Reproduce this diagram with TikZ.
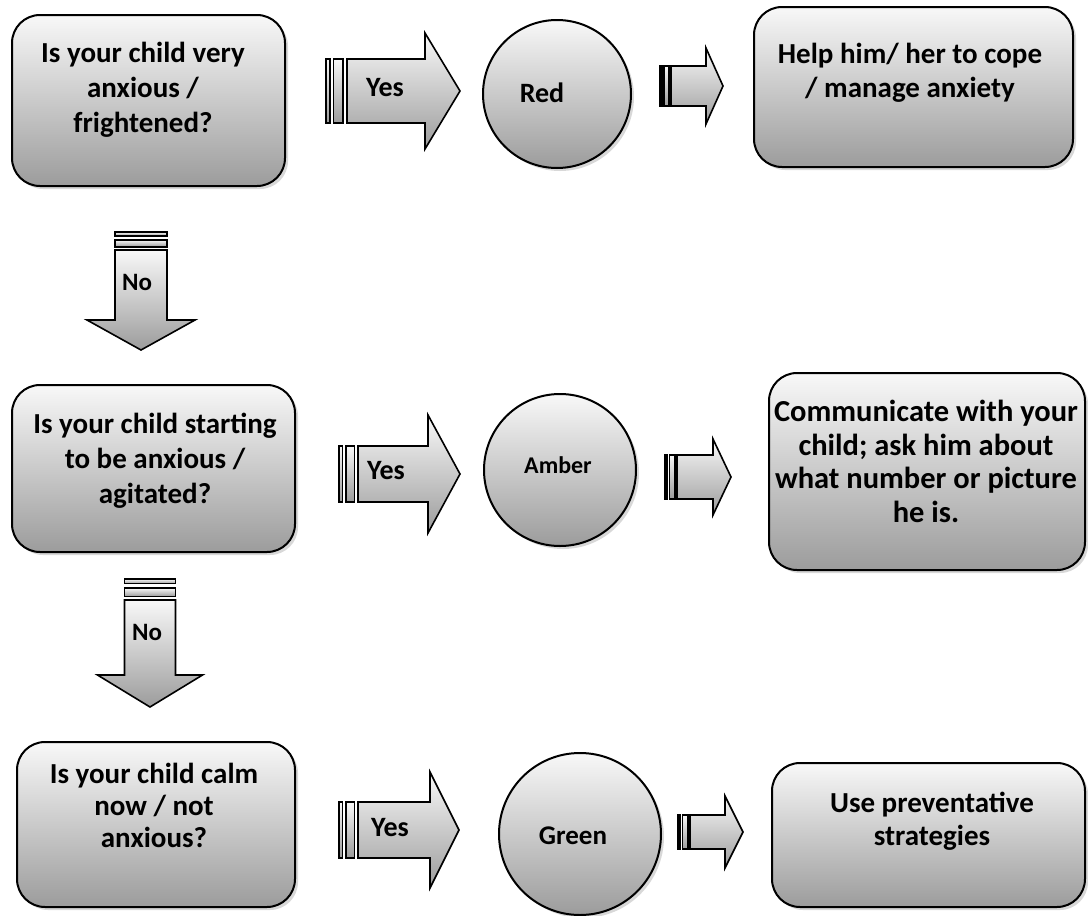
\documentclass[tikz,border=0pt]{standalone}
\usepackage{fontspec}
\setmainfont{Carlito}
\usetikzlibrary{shadows}
\definecolor{topc}{HTML}{F8F8F8}
\definecolor{botc}{HTML}{9C9C9C}
\tikzset{
  shadeit/.style={top color=topc, bottom color=botc},
  qbox/.style={draw=black, line width=2pt, rounded corners=28pt, shadeit,
    drop shadow={shadow xshift=3pt, shadow yshift=-3pt, opacity=0.3}, inner sep=0pt},
  qcirc/.style={circle, draw=black, line width=2pt, shadeit,
    drop shadow={shadow xshift=3pt, shadow yshift=-3pt, opacity=0.3}, inner sep=0pt},
  arrowshape/.style={draw=black, line width=1.6pt, shadeit, line join=miter},
  qtext/.style={font=\bfseries\fontsize{29}{35}\selectfont, align=center, anchor=north, inner sep=0pt},
  ctext/.style={font=\bfseries\fontsize{28}{32}\selectfont, inner sep=0pt},
  ytext/.style={font=\bfseries\fontsize{28}{32}\selectfont, inner sep=0pt},
  ntext/.style={font=\bfseries\fontsize{25}{30}\selectfont, inner sep=0pt},
}
% right striped block arrow: stripe start, body start, head start, tip, y centre, body half, head half
\newcommand\rarrowshape[7]{%
  \pgfmathsetmacro\rsa{#1}\pgfmathsetmacro\rsw{#2-#1}%
  \path[arrowshape] (\rsa,#5-#6) rectangle (\rsa+0.19*\rsw,#5+#6);
  \path[arrowshape] (\rsa+0.36*\rsw,#5-#6) rectangle (\rsa+0.82*\rsw,#5+#6);
  \path[arrowshape] (#2,#5-#6) -- (#3,#5-#6) -- (#3,#5-#7) -- (#4,#5) -- (#3,#5+#7) -- (#3,#5+#6) -- (#2,#5+#6) -- cycle;
}
% down striped block arrow: stripe start, body start, head start, tip, x centre, body half, head half
\newcommand\darrowshape[7]{%
  \pgfmathsetmacro\dsa{#1}\pgfmathsetmacro\dsw{#2-#1}%
  \path[arrowshape] (#5-#6,\dsa) rectangle (#5+#6,\dsa+0.22*\dsw);
  \path[arrowshape] (#5-#6,\dsa+0.44*\dsw) rectangle (#5+#6,\dsa+0.83*\dsw);
  \path[arrowshape] (#5-#6,#2) -- (#5-#6,#3) -- (#5-#7,#3) -- (#5,#4) -- (#5+#7,#3) -- (#5+#6,#3) -- (#5+#6,#2) -- cycle;
}
\begin{document}
\begin{tikzpicture}[x=1pt,y=-1pt]
\fill[white] (0,0) rectangle (1088,916);
\path[use as bounding box] (0,0) rectangle (1088,916);

% question boxes
\node[qbox, minimum width=273pt, minimum height=171pt] (q1) at (148.5,100.5) {};
\node[qbox, minimum width=283pt, minimum height=167pt] (q2) at (153.5,468.5) {};
\node[qbox, minimum width=278pt, minimum height=165pt] (q3) at (156,824.5) {};
% action boxes
\node[qbox, minimum width=319pt, minimum height=160pt] (a1) at (913.5,87) {};
\node[qbox, minimum width=316pt, minimum height=197pt] (a2) at (927,471.5) {};
\node[qbox, minimum width=313pt, minimum height=144pt] (a3) at (928.5,835) {};
% circles
\node[qcirc, minimum size=148pt] (c1) at (557,94) {};
\node[qcirc, minimum size=152pt] (c2) at (560,470) {};
\node[qcirc, minimum size=162pt] (c3) at (580,834) {};

% block arrows
\rarrowshape{326}{347}{425}{460}{91}{32}{58}
\rarrowshape{339}{358}{428}{460}{474}{28}{59}
\rarrowshape{339}{358}{430}{459}{830}{28}{58}
\rarrowshape{660}{671}{706}{723}{86}{20}{38}
\rarrowshape{665}{677}{713}{731}{477}{22}{38}
\rarrowshape{678}{690}{725}{743}{832}{17}{36}
\darrowshape{232}{250}{320}{350}{141}{26}{54}
\darrowshape{579}{600}{675}{707}{150}{25.5}{52.5}

% texts
\node[qtext] (t1) at (143,42) {Is your child very\\anxious /\\frightened?};
\node[qtext] (t2) at (155,413) {Is your child starting\\to be anxious /\\agitated?};
\node[qtext, font=\bfseries\fontsize{29}{32}\selectfont] (t3) at (154,763) {Is your child calm\\now / not\\anxious?};
\node[qtext, font=\bfseries\fontsize{29}{34}\selectfont] (t4) at (910,43) {Help him/ her to cope\\/ manage anxiety};
\node[qtext, font=\bfseries\fontsize{30.5}{33.5}\selectfont] (t5) at (926,400) {Communicate with your\\child; ask him about\\what number or picture\\he is.};
\node[qtext, font=\bfseries\fontsize{29}{33}\selectfont] (t6) at (932,792) {Use preventative\\strategies};

\node[ctext] (l1) at (542,93) {Red};
\node[ctext, font=\bfseries\fontsize{24}{28}\selectfont] (l2) at (558,465) {Amber};
\node[ctext, font=\bfseries\fontsize{27}{30}\selectfont] (l3) at (573,836) {Green};

\node[ytext] (y1) at (385,88) {Yes};
\node[ytext] (y2) at (386,471) {Yes};
\node[ytext] (y3) at (390,828) {Yes};
\node[ntext] (n1) at (137,282) {No};
\node[ntext] (n2) at (147,632) {No};
\end{tikzpicture}
\end{document}
